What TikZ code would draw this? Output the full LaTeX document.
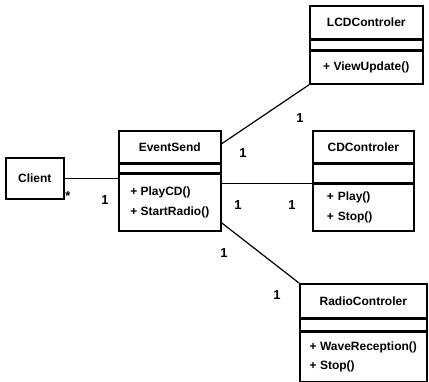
\documentclass[tikz,border=0pt]{standalone}
\usepackage{fontspec}
\setmainfont{Liberation Sans}
\usetikzlibrary{positioning}

\begin{document}
\begin{tikzpicture}[
  x=1pt, y=-1pt,
  font=\bfseries\fontsize{12}{19.5}\selectfont,
  % class compartments
  box/.style={draw=black, line width=1.6pt, inner sep=0pt},
  namebox/.style={box, anchor=north west},
  attrbox/.style={box, anchor=north},
  opsbox/.style={box, anchor=north, align=left},
  % associations
  link/.style={draw=black, line width=1.2pt},
  mult/.style={font=\bfseries\fontsize{13}{15}\selectfont, inner sep=0pt}
]
  \useasboundingbox (0,0) rectangle (429,381);

  % =============================================================
  % Client
  % =============================================================
  \node[namebox, minimum width=58pt, minimum height=41pt] (client) at (5,157) {Client};

  % =============================================================
  % EventSend
  % =============================================================
  \node[namebox, minimum width=102pt, minimum height=32pt] (es) at (118,130) {EventSend};
  \node[attrbox, minimum width=102pt, minimum height=8pt] (es-attr) at (es.south) {};
  \node[opsbox, minimum width=102pt, minimum height=57pt] (es-ops) at (es-attr.south)
       {+ PlayCD()\\+ StartRadio()};

  % =============================================================
  % Controllers
  % =============================================================
  % LCD
  \node[namebox, minimum width=113pt, minimum height=33pt] (lcd) at (309,5) {LCDControler};
  \node[attrbox, minimum width=113pt, minimum height=9pt] (lcd-attr) at (lcd.south) {};
  \node[opsbox, minimum width=113pt, minimum height=33pt] (lcd-ops) at (lcd-attr.south)
       {+ ViewUpdate()};

  % CD
  \node[namebox, minimum width=101pt, minimum height=32pt] (cd) at (312,130) {CDControler};
  \node[attrbox, minimum width=101pt, minimum height=18pt] (cd-attr) at (cd.south) {};
  \node[opsbox, inner xsep=14pt, text width=73pt, minimum height=47pt] (cd-ops) at (cd-attr.south)
       {+ Play()\\+ Stop()};

  % Radio
  \node[namebox, minimum width=127pt, minimum height=34pt] (radio) at (299,283) {RadioControler};
  \node[attrbox, minimum width=127pt, minimum height=11pt] (radio-attr) at (radio.south) {};
  \node[opsbox, minimum width=127pt, minimum height=50pt] (radio-ops) at (radio-attr.south)
       {+ WaveReception()\\+ Stop()};

  % =============================================================
  % Associations
  % =============================================================
  \draw[link] (client.east) -- (client.east -| es-ops.west);
  \draw[link] ([yshift=3pt]es.east) -- (lcd-ops.south west);
  \draw[link] (cd-ops.north west -| es-ops.east) -- (cd-ops.north west);
  \draw[link] ([yshift=9pt]es-ops.south east) -- (radio.north west);

  % multiplicities
  \node[mult] (m-client) at (68,196) {*};
  \node[mult] (m-es-client) at (105,200) {1};
  \node[mult] (m-es-lcd) at (243,153) {1};
  \node[mult] (m-lcd) at (300,118) {1};
  \node[mult] (m-es-cd) at (238,205) {1};
  \node[mult] (m-cd) at (292,205) {1};
  \node[mult] (m-es-radio) at (224,253) {1};
  \node[mult] (m-radio) at (277,295) {1};
\end{tikzpicture}
\end{document}
